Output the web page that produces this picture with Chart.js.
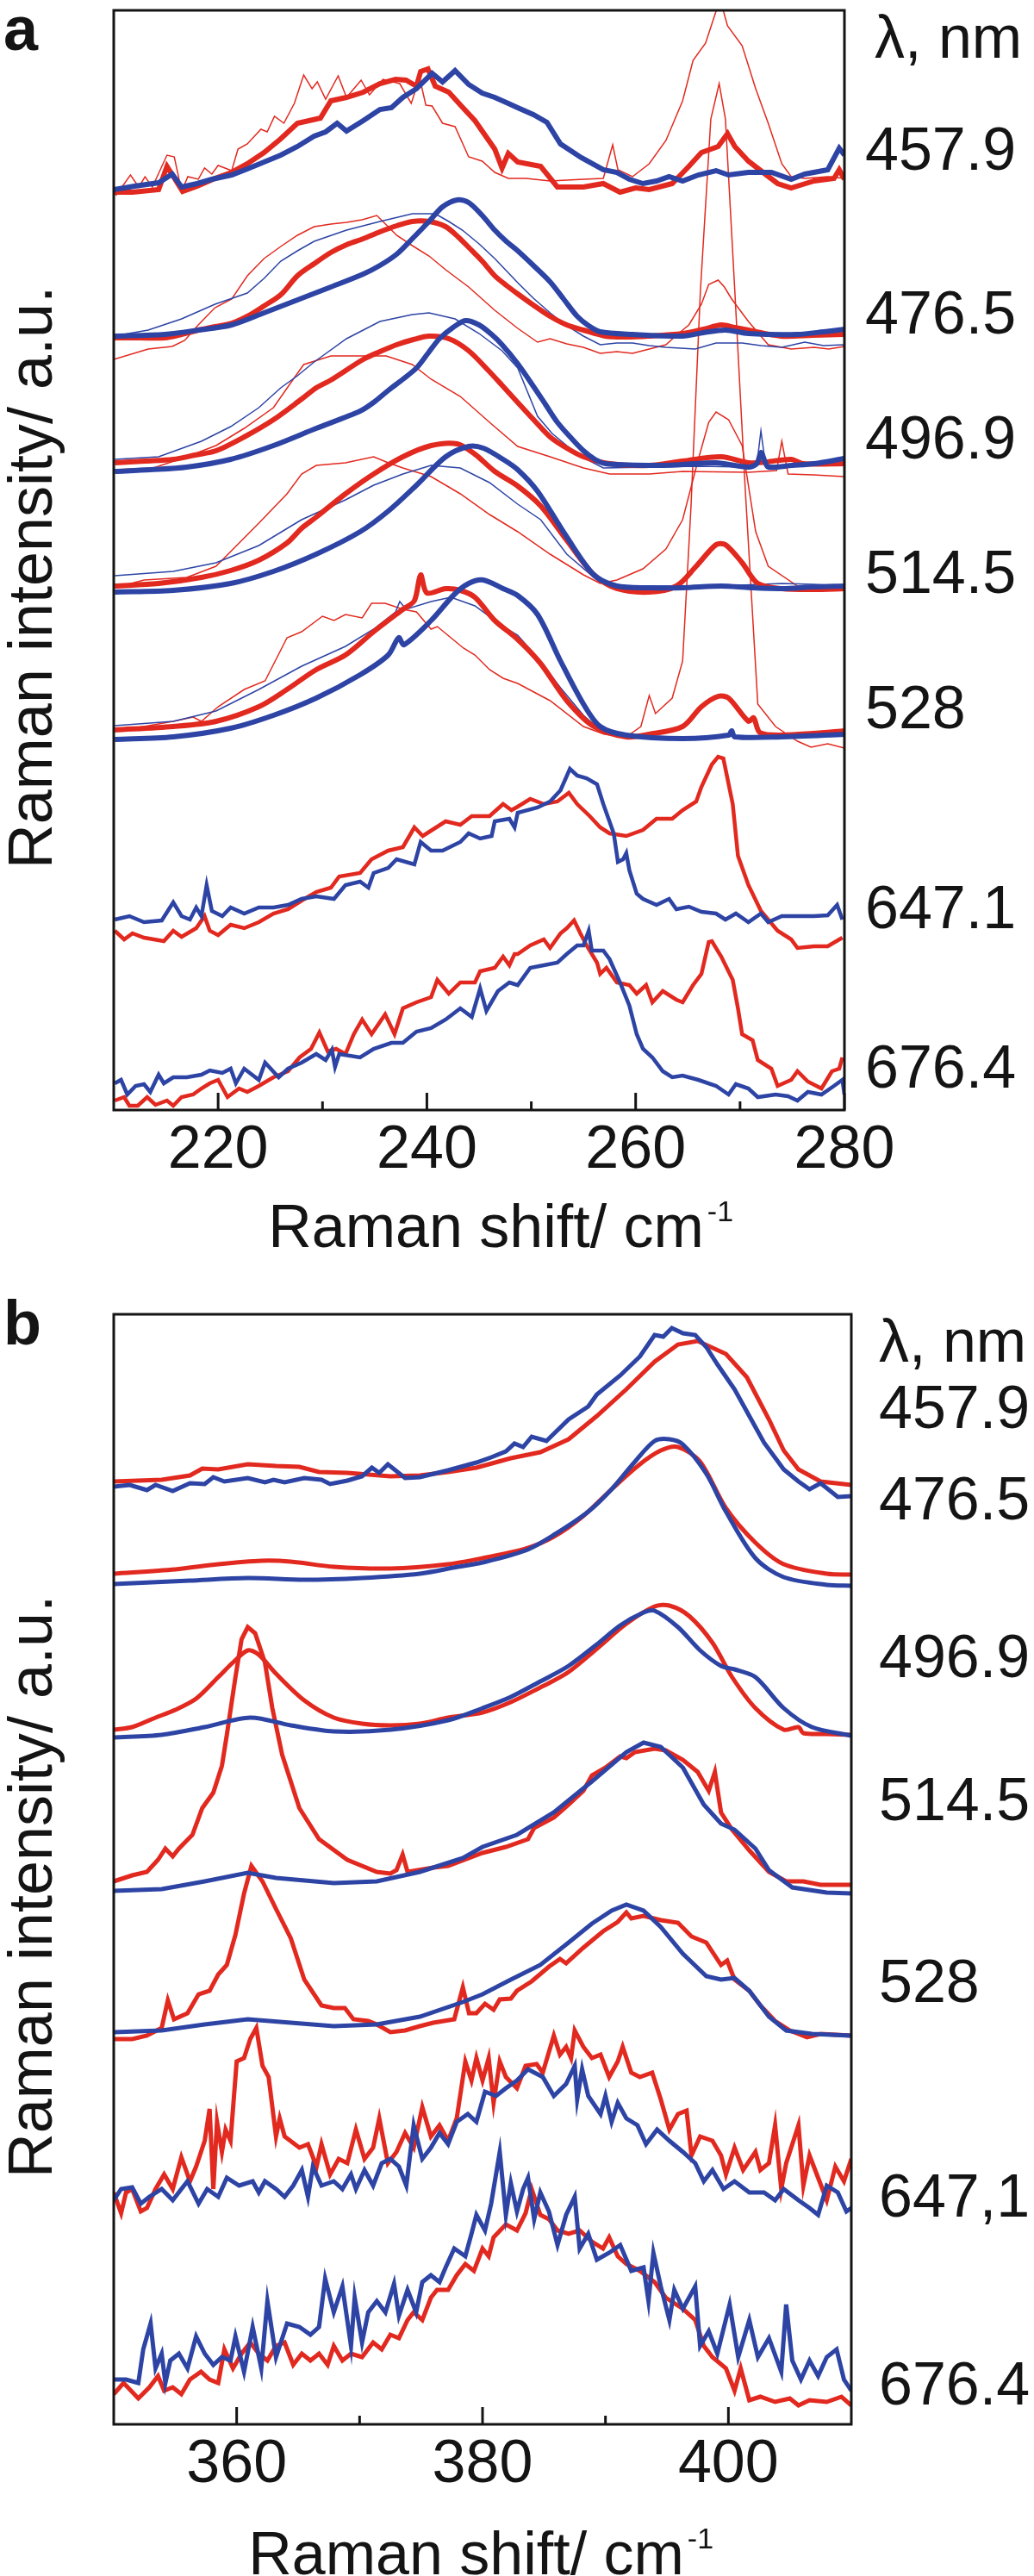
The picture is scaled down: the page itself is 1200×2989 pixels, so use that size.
<!DOCTYPE html>
<html lang="en">
<head>
<meta charset="UTF-8">
<title>Raman spectra</title>
<script src="https://cdn.jsdelivr.net/npm/chart.js"></script>
<style>
  body { margin: 0; background: #fff; }
  canvas { position: absolute; left: 0; }
</style>
</head>
<body>
<canvas id="chartA" width="1200" height="1500" style="top:0"></canvas>
<canvas id="chartB" width="1200" height="1489" style="top:1500px"></canvas>
<script>
// ---------- panel a : spectra, [shift cm-1, intensity a.u.] ----------
const a458_redThick = [[210,1065],[211.8,1065],[214.3,1068],[215.1,1095],[216.6,1066],[218,1072],[219.7,1081],[221.3,1088],[222.8,1098],[224.4,1111],[226,1127],[227.6,1145],[229.8,1151],[230.8,1171],[232.3,1175],[233.9,1181],[235.5,1191],[237,1196],[238,1195],[239,1188],[239.4,1205],[240.1,1208],[240.8,1188],[242.1,1181],[243.3,1165],[244.6,1148],[246.5,1115],[247.2,1093],[247.8,1110],[248.7,1100],[250.9,1095],[252.5,1071],[255,1071],[256.9,1075],[258.5,1065],[260,1070],[261.3,1068],[263.5,1075],[265.1,1095],[266.3,1111],[267.9,1118],[268.8,1133],[269.5,1118],[270.8,1101],[272.2,1088],[273.6,1075],[274.9,1070],[276,1074],[277.1,1078],[279,1081],[279.5,1091],[280,1080]];
const a458_blueThick = [[210,1068],[212,1072],[214.3,1076],[215.6,1086],[216.5,1071],[218,1075],[219.4,1080],[221.3,1085],[222.8,1092],[224.4,1100],[226,1108],[227.6,1118],[229.2,1130],[230.3,1135],[231.4,1145],[232.3,1136],[233.9,1148],[235.5,1161],[236.6,1163],[237.7,1175],[239,1185],[240.5,1203],[241.5,1193],[242.7,1206],[244,1190],[245.3,1180],[246.5,1175],[247.8,1168],[248.7,1163],[250.2,1155],[251.5,1146],[252.8,1121],[254.8,1105],[256.9,1091],[258.2,1088],[259.4,1080],[260.7,1075],[262,1078],[263.2,1083],[264.5,1078],[266,1085],[267.7,1090],[268.9,1085],[270.8,1088],[273,1088],[274.9,1080],[276.2,1086],[278.4,1091],[279.5,1116],[280,1108]];
const a458_redThin = [[210.2,1061],[211.6,1085],[212.4,1071],[213,1083],[213.7,1071],[215.1,1108],[215.8,1106],[216.5,1066],[217.1,1083],[218.1,1080],[218.7,1093],[219.4,1086],[220,1096],[221.3,1090],[221.9,1115],[222.8,1121],[224.1,1138],[224.7,1135],[225.4,1153],[226.3,1145],[227.3,1168],[228.2,1201],[229,1185],[229.5,1193],[230.3,1173],[231.5,1200],[232.3,1175],[233.7,1195],[234.5,1178],[235.8,1196],[237.4,1191],[238.5,1168],[239.3,1198],[239.9,1166],[240.5,1165],[241.5,1145],[242.7,1141],[244,1106],[245.3,1101],[246.5,1088],[247.8,1081],[249.5,1081],[251.8,1078],[255,1080],[256.9,1081],[257.8,1120],[258.3,1091],[259.7,1083],[261.3,1098],[262.9,1125],[264.5,1171],[265.5,1218],[266.7,1238],[267.7,1275],[268.3,1280],[268.8,1258],[270.2,1235],[271.5,1185],[272.7,1145],[274,1098],[274.9,1083],[276.2,1081],[278.4,1083],[280,1081]];

const a477_redThick = [[210,896],[212.5,896],[214.9,896],[216.5,900],[218.1,905],[219.7,909],[221.3,913],[222.8,921],[224.4,933],[226,946],[227.6,968],[229.2,982],[230.8,995],[232.3,1004],[233.9,1011],[235.5,1019],[237.1,1026],[238.6,1031],[240.2,1031],[241.8,1025],[243,1013],[244,1001],[245.3,985],[246.5,968],[247.6,957],[248.7,947],[250.2,934],[251.8,921],[253.4,911],[255,905],[257.1,898],[259,897],[261.3,898],[264.5,901],[266.5,906],[268.2,911],[269.5,908],[270.8,905],[273.9,898],[277,899],[280,900]];
const a477_blueThick = [[210,898],[214.9,900],[218.1,905],[221.3,911],[224.4,925],[227.6,940],[230.8,955],[233.9,970],[235.5,980],[237.1,993],[238.6,1011],[240.2,1031],[241.5,1048],[242.9,1056],[244,1053],[245.3,1038],[246.5,1021],[247.6,1008],[248.7,997],[250.2,980],[251.8,961],[253.1,941],[254.4,921],[255.5,910],[256.6,903],[259.7,900],[264.5,898],[266.5,902],[268.6,905],[270.8,901],[275.5,900],[278,903],[280,906]];
const a477_blueThin = [[210,898],[213.3,905],[216.5,918],[219.7,935],[222.8,948],[224.4,965],[226,985],[227.6,997],[229.2,1008],[232.3,1021],[235.5,1031],[238.6,1040],[240.8,1040],[242.1,1031],[243.4,1021],[245,1005],[246.5,988],[248.7,960],[250.2,942],[251.8,925],[253.4,910],[255,898],[256.6,888],[258.2,890],[259.7,890],[261.3,887],[262.9,885],[265.7,883],[267.7,890],[270.2,890],[272,887],[274,885],[276.2,891],[278,887],[280,888]];
const a477_redThin = [[210,871],[213.3,883],[215.6,886],[216.8,893],[218.1,911],[219.7,931],[221.3,941],[222.8,968],[224.4,988],[226,1002],[227.6,1015],[229.2,1025],[230.8,1028],[232.3,1030],[233.8,1033],[235.2,1038],[236.2,1026],[237.1,1015],[238.6,1003],[240.2,991],[241.8,975],[244,955],[246.5,928],[248.7,907],[250.6,891],[251.8,895],[253.4,889],[255,885],[256.6,878],[258.2,880],[259.7,878],[261.3,883],[262.9,888],[264,900],[265.1,911],[266.3,935],[267,958],[267.9,963],[268.5,955],[269.2,941],[270.8,915],[272.7,888],[274.9,883],[277.1,885],[278.5,883],[280,886]];

const a497_redThick = [[210.1,751],[213,753],[215.7,755],[217.8,760],[219.8,765],[222.5,781],[225.3,801],[228,825],[229.4,838],[230.8,847],[233.9,871],[235.5,880],[237.1,888],[238.7,894],[240.2,898],[242.1,895],[244,881],[245.9,858],[247.2,841],[248.7,821],[250.3,800],[251.8,781],[253.4,768],[255,758],[257.5,750],[261.3,748],[264.5,753],[268.2,758],[270.8,751],[272.5,752],[274.9,755],[276,750],[280,750]];
const a497_blueThick = [[210.1,741],[213.5,743],[217,746],[221.2,755],[225.3,771],[229.4,791],[233.6,811],[235,822],[236.3,835],[237.7,848],[239,861],[240.1,878],[241.2,895],[242.5,908],[243.7,916],[245,911],[246.2,900],[247.2,888],[248.7,866],[250.3,838],[251.4,818],[252.5,798],[253.8,780],[255,765],[256.1,755],[257.1,750],[261.3,748],[264.5,749],[267.7,751],[270.8,746],[271.6,750],[272,763],[272.4,752],[272.7,746],[275,748],[277.1,750],[280,756]];
const a497_blueThin = [[210.1,755],[214.3,758],[218.4,776],[221.2,793],[223.9,815],[226,838],[227.6,852],[229.2,868],[232.3,895],[235.5,915],[238.6,923],[240.2,925],[242.7,918],[245,901],[247.2,881],[248.7,861],[250.6,805],[252,785],[253.4,771],[255,757],[256.9,745],[261.3,746],[266,747],[270.8,746],[271.6,748],[272,788],[272.4,752],[272.7,748],[276,748],[280,748]];
const a497_redThin = [[210.1,743],[213.8,745],[217,758],[219.8,771],[222.5,791],[225.3,815],[227.2,848],[228.2,865],[230.8,875],[233.9,875],[236.1,875],[238.6,865],[240.4,848],[243.2,828],[246,798],[248.7,770],[251.8,758],[255,745],[257.5,738],[261.3,738],[264.5,741],[270.8,740],[273.5,742],[274,776],[274.6,738],[277,737],[280,735]];

const a515_redThick = [[210.1,608],[214.3,611],[218.4,618],[221.2,626],[223.9,638],[226.6,658],[228,675],[229.4,688],[232.2,715],[234.9,738],[237.7,758],[240.4,771],[242.9,773],[244.6,761],[246.5,741],[248.7,724],[250.9,701],[253.4,661],[256,621],[258.2,605],[261.3,601],[263.9,608],[265.8,631],[267.7,656],[268.6,656],[270.2,635],[271.7,611],[274,605],[277,604],[280,605]];
const a515_blueThick = [[210.1,601],[215.7,603],[221.2,611],[225.3,625],[229.4,645],[233.6,671],[236.3,695],[239,725],[241.8,758],[244,770],[245.4,768],[247.3,755],[248.7,743],[250.6,718],[253.4,665],[256,621],[258.2,608],[261.3,606],[264.5,606],[268.2,608],[271,606],[274,605],[277,607],[280,608]];
const a515_blueThin = [[210.1,620],[215.7,625],[219.8,635],[223.9,655],[228,685],[232.2,708],[234.9,725],[237.7,738],[240.4,748],[243.2,745],[246,728],[248.7,703],[250.9,685],[253.4,645],[256,618],[258.2,608],[264.5,608],[270,609],[274,611],[277,610],[280,608]];
const a515_redThin = [[210.1,606],[212.9,615],[217,618],[219.8,631],[221.2,648],[223.9,681],[226.6,715],[228,738],[229.4,748],[232.2,751],[234.9,758],[236.3,751],[237.7,745],[240.4,735],[243.2,715],[246,691],[248.7,671],[251.8,645],[255,621],[256.6,611],[258.2,615],[260.7,628],[262.9,651],[264.5,685],[266,755],[267,798],[267.7,810],[268.9,801],[270.2,771],[271.5,671],[272.7,631],[275.5,608],[280,606]];

const a528_redThick = [[210.1,441],[215.7,445],[219.8,451],[223.9,468],[226.6,488],[229.4,511],[232.2,528],[234.9,555],[237.7,581],[238.8,591],[239.4,621],[240,600],[241.8,605],[243.2,603],[244.6,595],[246.5,568],[248.7,546],[250.9,518],[253.4,475],[256,445],[259.1,433],[261.3,436],[264.5,445],[266.3,468],[267.9,480],[268.9,478],[270.8,451],[271.3,455],[271.9,438],[274,435],[277,437],[280,440]];
const a528_blueThick = [[210.1,430],[215.7,433],[221.2,443],[225.3,458],[229.4,478],[233.6,505],[236.3,528],[237.3,548],[237.8,540],[240.4,568],[242.6,598],[244,611],[245.4,615],[247.3,605],[248.7,597],[250.6,575],[252.8,521],[255,471],[256.6,445],[259.1,435],[264.5,431],[268.9,435],[269.2,440],[269.5,433],[274,433],[280,436]];
const a528_blueThin = [[210.1,446],[215.7,451],[219.8,463],[223.9,488],[228,515],[232.2,538],[234.9,558],[237,578],[237.4,590],[238,581],[240.4,590],[242.3,595],[244.6,585],[247.3,561],[248.7,551],[250.6,525],[252.8,490],[255,458],[256.6,441],[260,434],[264.5,433],[270,434],[275,435],[280,436]];
const a528_redThin = [[210.1,440],[212.9,445],[215.7,451],[217.6,456],[218.4,451],[220,468],[222.5,488],[224.5,498],[226.6,548],[228,555],[230,573],[231.1,568],[232.2,575],[233.8,571],[234.7,588],[236,588],[237.7,581],[239,578],[240.4,558],[241,561],[242.1,550],[243.5,536],[244.6,528],[246,511],[247.3,501],[248.7,495],[251.8,475],[255,445],[257,436],[259.1,433],[260.5,445],[261.3,481],[261.9,460],[263.5,478],[264.5,521],[265.3,700],[266.2,950],[267.2,1150],[268,1191],[268.6,1150],[269.5,950],[270.5,720],[271.7,471],[273.4,445],[275.5,428],[276.8,421],[278.4,425],[280,420]];

const a647_blue = [[210.1,221],[211.5,225],[212.9,218],[214.6,220],[215.7,241],[216.5,225],[217.3,221],[217.9,235],[218.4,225],[218.9,261],[219.4,231],[220.4,225],[221.2,235],[222.5,228],[223.9,235],[225.3,235],[226.7,238],[228,245],[229.4,248],[231.1,245],[232.2,261],[233.6,265],[234.4,258],[234.9,275],[236.3,281],[237.1,291],[238.8,285],[239.4,311],[240.4,301],[241.5,301],[243.2,311],[244,321],[245.1,315],[246.2,318],[246.5,335],[247.9,338],[248.4,328],[248.7,345],[250.6,351],[251.8,358],[252.8,371],[253.7,396],[254.4,388],[255.3,385],[256.3,378],[256.9,355],[257.9,321],[258.3,288],[258.8,291],[259.1,298],[259.4,278],[260.1,251],[260.7,245],[262,238],[263.2,245],[263.9,233],[265.1,236],[266.3,230],[267.7,228],[268.6,221],[269.6,228],[270.8,218],[272,228],[272.7,218],[274,225],[275.5,225],[277.1,225],[278.4,226],[279.3,238],[279.8,221]];
const a647_red = [[210.1,208],[211,198],[211.8,205],[212.9,200],[214.8,196],[215.7,208],[216.5,201],[217.9,211],[218.7,225],[219.2,208],[220,203],[221.2,215],[222.5,211],[223.9,218],[225.3,228],[226.7,233],[228,243],[229.4,253],[230.8,258],[231.6,271],[233.6,275],[234.7,291],[236.3,301],[237.7,305],[238.8,328],[239.6,318],[241.8,335],[243.2,331],[244.3,341],[246,341],[247.3,355],[248.1,348],[248.7,352],[249.9,361],[251.2,355],[252.5,358],[253.6,368],[254.4,355],[255.6,341],[256.6,328],[257.5,321],[259.1,318],[260.7,325],[262,338],[263.5,338],[264.5,348],[265.8,358],[266.3,375],[267.3,401],[267.9,410],[268.4,408],[269.3,355],[269.8,295],[270.8,261],[272,231],[273.6,208],[274.9,198],[275.5,188],[277.1,190],[278.4,190],[279.8,200]];
const a676_blue = [[210.1,31],[210.7,35],[211.3,18],[212.1,28],[212.9,30],[213.5,21],[214.3,41],[214.8,31],[215.7,38],[217,38],[218.4,41],[219.2,46],[220.4,43],[221.2,48],[221.7,31],[222.5,48],[223.9,35],[224.5,55],[225.8,38],[226.7,48],[228,55],[229.4,65],[230.3,58],[230.9,70],[231.2,50],[231.6,65],[233.6,61],[234.9,71],[236.6,78],[237.7,78],[239,91],[240.4,95],[241.8,105],[243.2,118],[244.3,108],[245.1,141],[245.7,115],[246.8,138],[247.9,148],[248.7,145],[249.9,165],[251.2,168],[252.5,171],[253.4,181],[254.4,191],[255,191],[255.5,208],[255.8,185],[256.9,185],[257.5,175],[258.5,148],[259.4,121],[260.1,88],[260.7,71],[261.6,61],[262.6,45],[263.5,38],[264.5,40],[266,35],[267.7,28],[268.9,18],[269.6,30],[270.8,25],[271.7,15],[273.4,18],[274.6,16],[275.5,11],[276.5,21],[277.8,18],[279,28],[279.8,35],[280,18]];
const a676_red = [[210.1,11],[211,15],[211.5,5],[212.3,5],[213.2,15],[214,6],[215.1,11],[215.7,5],[216.5,15],[217.6,18],[218.4,25],[219.2,31],[220,35],[220.9,15],[222,25],[222.8,21],[223.9,28],[225.3,38],[226.7,45],[227.8,61],[228.9,71],[229.7,90],[230.5,68],[231.3,71],[232.2,65],[233,88],[233.8,105],[234.7,88],[236,111],[236.9,88],[237.7,118],[239,125],[240.4,131],[241,151],[242.1,135],[243.2,148],[244.6,148],[245.1,161],[246.5,165],[247.3,178],[247.9,168],[248.4,181],[248.7,181],[249.9,191],[251.2,198],[251.8,188],[252.8,205],[253.4,211],[254.1,220],[254.7,205],[255.3,191],[256.3,171],[256.6,158],[257.2,165],[258.2,148],[259.4,145],[260.1,135],[261,145],[261.6,125],[262.6,138],[263.9,128],[264.5,125],[265.5,145],[266.3,158],[267,195],[267.3,196],[268.2,178],[269.3,151],[269.8,118],[270.2,88],[271.2,81],[271.7,58],[273,48],[273.6,28],[274.9,35],[275.5,45],[276.5,33],[277.8,25],[278.8,45],[279.5,48],[279.8,61]];

// ---------- panel b ----------
const b458_red = [[350,1094],[353.9,1096],[356.2,1101],[357.2,1109],[358.5,1108],[360.9,1114],[363.2,1112],[365.1,1111],[366.7,1105],[369,1104],[372.5,1100],[374.9,1101],[377.2,1105],[379.5,1110],[382.3,1121],[384.7,1128],[387,1143],[389.3,1170],[391.7,1201],[394,1233],[395.9,1253],[397.5,1257],[399.8,1242],[401.5,1215],[403.3,1166],[404.5,1130],[405.7,1108],[407.5,1094],[410,1090]];
const b458_blue = [[350,1088],[351.3,1090],[352.7,1084],[353.4,1090],[354.8,1083],[356.2,1092],[357.4,1091],[358.1,1099],[359,1094],[360.9,1098],[362.3,1093],[363,1096],[363.9,1093],[365.5,1098],[366.9,1096],[367.6,1091],[369,1095],[370.2,1100],[371,1110],[371.6,1104],[372.3,1114],[373.7,1098],[374.9,1099],[377.2,1107],[379.5,1116],[380.7,1122],[381.9,1129],[382.6,1138],[383.3,1134],[384,1146],[385.2,1141],[387,1166],[388.6,1181],[389.3,1195],[391.2,1217],[392.8,1239],[394,1264],[394.7,1262],[395.4,1272],[396.3,1266],[397.3,1264],[398.2,1250],[399.1,1230],[400.5,1201],[401.7,1170],[402.9,1139],[404.5,1108],[405.7,1094],[406.6,1085],[407.5,1092],[408.9,1076],[410,1077]];
const b477_red = [[350,987],[355,992],[358.5,998],[362,1002],[364.4,1001],[367.9,995],[372.5,993],[377.2,998],[380,1005],[383.5,1016],[385.8,1030],[388.2,1054],[390.5,1085],[392.8,1114],[394.5,1130],[395.9,1134],[397.7,1117],[399.8,1063],[402.2,1023],[404.5,998],[408,987],[410,986]];
const b477_blue = [[350,975],[356.2,979],[360.9,982],[365.5,980],[370.2,982],[374.9,987],[378,995],[380,1000],[383.5,1014],[385.8,1032],[388.6,1059],[390.5,1085],[392.4,1117],[394,1141],[395.2,1143],[396.3,1137],[398.2,1103],[399.8,1059],[402.2,1005],[404.5,983],[408,974],[410,973]];
const b497_red = [[350,806],[351.5,809],[353.4,820],[355,829],[356.7,842],[358.5,867],[359.7,884],[360.9,898],[361.8,893],[363.2,871],[365.5,840],[367.9,820],[370.2,813],[372.5,811],[374.9,813],[377.2,820],[380,826],[382.3,838],[384.7,855],[385.4,860],[387,873],[389.3,900],[391.7,929],[394,949],[395.2,950],[396.8,938],[398.7,907],[400.3,867],[402.2,831],[404.5,806],[405.7,809],[406.1,802],[408,801],[410,800]];
const b497_blue = [[350,797],[353.9,800],[357.4,809],[361.1,820],[364.4,811],[367.9,804],[372.5,806],[377.2,817],[380,831],[382.3,844],[384.7,862],[387,880],[389.3,905],[391.2,927],[393.1,942],[394,944],[395.9,925],[397.7,898],[399.4,880],[400.5,876],[402.2,867],[404.5,831],[406.8,809],[410,799]];
const b515_red = [[350,630],[351.5,637],[352.7,641],[353.6,655],[354.2,668],[354.8,659],[355.3,668],[356.4,684],[357.2,715],[358.1,733],[358.8,764],[359.2,800],[359.9,867],[360.4,911],[360.9,925],[361.5,918],[362.3,884],[362.9,831],[363.7,777],[365.1,715],[366.7,679],[369,655],[371.4,641],[372.5,639],[373,643],[373.5,661],[373.9,641],[376,646],[377.2,648],[380,663],[381.9,670],[383.7,679],[384.2,692],[385.8,704],[387,719],[388.2,735],[388.9,753],[390,762],[391.2,775],[391.7,773],[392.4,780],[394,784],[394.9,782],[396.3,771],[397.5,757],[398.4,735],[398.9,757],[399.4,710],[400.3,690],[401.7,666],[403.3,641],[404.7,630],[406.1,630],[407.5,626],[410,626]];
const b515_blue = [[350,619],[353.9,621],[357.4,630],[360.9,640],[363.2,634],[367.9,628],[371.4,630],[374.9,641],[378.4,657],[380,670],[382.8,684],[385.8,710],[388.9,746],[391.7,780],[393.1,791],[394.5,786],[396.3,762],[398,719],[399.4,697],[400.5,690],[402.2,668],[403.3,643],[405.2,623],[408,617],[410,616]];
const b528_red = [[350,447],[351.5,447],[352.7,451],[353.9,460],[354.4,492],[354.9,470],[356,477],[356.9,499],[357.8,503],[358.5,522],[359.2,533],[359.9,568],[360.6,616],[361.2,648],[362.1,630],[363.2,598],[364.4,564],[365.5,516],[366.9,486],[367.9,483],[368.8,483],[369.5,470],[370.7,468],[371.4,464],[372.5,455],[373.7,457],[374.9,462],[376,466],[377.7,470],[378.4,507],[378.9,477],[379.5,477],[380.2,488],[380.9,481],[381.4,493],[382.3,494],[382.8,503],[384,514],[385.4,531],[386.3,540],[386.8,535],[388.2,553],[389.8,572],[391,583],[391.7,594],[392.1,587],[393.1,590],[394.5,585],[395.9,582],[397,566],[398.2,559],[399.4,533],[399.9,538],[400.5,516],[401.7,503],[402.6,486],[403.8,468],[405,457],[406.4,449],[407.5,453],[410,451]];
const b528_blue = [[350,455],[353.9,457],[357.4,464],[360.9,470],[364.4,466],[367.9,462],[371.4,464],[374.9,473],[378.4,490],[380,499],[382.3,516],[384.7,533],[387,559],[388.9,581],[390.5,596],[391.7,603],[393.1,596],[394.5,577],[396.3,546],[398.2,520],[399.4,516],[400.5,518],[401.7,503],[403.3,473],[404.7,457],[406.8,453],[410,451]];
const b647_red = [[350,269],[350.6,245],[351,269],[351.5,273],[352.2,247],[352.7,251],[353.4,273],[354.1,290],[354.8,273],[355.5,310],[356.2,282],[356.7,299],[357.4,329],[357.8,366],[358.1,273],[358.4,351],[358.8,316],[359.1,342],[359.5,329],[360,421],[360.6,425],[361.1,447],[361.6,460],[362.1,416],[362.6,403],[363.2,334],[363.5,355],[363.9,334],[365.1,321],[365.8,325],[366.5,299],[366.9,325],[367.6,290],[368.3,308],[369,303],[369.7,342],[370.4,308],[371.1,321],[371.6,355],[372.3,303],[373,316],[373.7,338],[374.4,321],[375.1,368],[375.8,334],[376.5,347],[377.2,329],[377.9,355],[378.6,421],[379.1,399],[379.5,425],[380,399],[380.5,425],[380.9,373],[381.4,421],[381.9,403],[382.8,390],[383.5,416],[384.4,418],[384.9,408],[385.8,451],[386.3,429],[386.8,438],[387.2,425],[387.5,457],[388.2,438],[388.9,425],[389.6,429],[390.3,403],[391,421],[391.4,438],[392.1,408],[392.8,403],[393.8,408],[394.5,377],[395.2,342],[395.9,360],[396.6,364],[397,312],[397.7,334],[398.7,329],[399.4,312],[399.8,290],[400.5,321],[401.2,295],[402.2,316],[402.6,295],[403.3,303],[403.8,347],[404.3,273],[404.7,303],[405.7,347],[406.1,277],[406.6,312],[407.3,286],[408,260],[408.7,299],[409.4,282],[410,308]];
const b647_blue = [[350,260],[350.6,273],[351.5,275],[352.2,256],[352.9,264],[353.9,273],[354.8,260],[355.5,273],[356,282],[356.9,256],[357.6,273],[358.5,264],[359.2,286],[360.2,277],[361.3,282],[361.8,269],[362.3,282],[363.2,273],[363.9,264],[364.6,277],[365.3,295],[365.8,264],[366.2,299],[366.9,277],[367.9,282],[368.6,273],[369.3,290],[369.7,273],[370.4,295],[371.1,277],[371.8,303],[372.5,308],[373.2,299],[373.8,277],[374.4,347],[375.1,308],[375.8,321],[376.5,338],[377.2,325],[377.9,351],[378.8,360],[379.5,351],[380.2,386],[381.1,381],[381.9,390],[382.8,399],[383.7,412],[384.9,403],[385.8,381],[386.8,395],[387.5,416],[387.7,377],[388.1,412],[388.6,381],[389.6,360],[390,381],[390.5,351],[391,373],[391.7,355],[392.6,347],[393.3,325],[394.2,342],[395.2,329],[396.3,316],[397.3,303],[398,282],[398.7,295],[399.6,273],[400.5,282],[401.7,269],[402.9,269],[403.8,260],[404.5,273],[405.7,260],[406.6,251],[407.3,243],[408,277],[408.9,269],[409.6,247],[410,251]];
const b676_red = [[350,35],[350.8,48],[352,30],[352.9,43],[353.6,56],[354.1,39],[354.8,43],[355.5,35],[356.2,52],[357.1,61],[357.8,52],[358.5,48],[359,87],[359.7,65],[360.4,82],[361.1,95],[361.8,82],[362.5,74],[363.2,91],[363.9,95],[364.6,69],[365.3,82],[366,74],[366.7,82],[367.4,69],[367.9,91],[368.6,74],[369.3,82],[370.2,78],[371.1,95],[371.8,87],[372.5,104],[373.2,100],[373.9,121],[374.4,130],[375.1,121],[375.8,147],[376.3,156],[377.2,156],[377.9,173],[378.6,186],[379.3,178],[380,204],[380.5,195],[380.9,217],[381.9,232],[382.8,225],[383.5,245],[384,273],[384.7,243],[385.4,238],[386.1,225],[387,221],[387.9,225],[388.9,212],[389.8,204],[390.3,217],[391,195],[391.7,186],[392.8,178],[394,165],[394.9,147],[396.3,134],[397.3,121],[398,91],[398.7,78],[399.8,65],[400.5,39],[401,65],[401.7,28],[402.6,32],[403.8,26],[405,30],[405.7,22],[406.6,28],[408,26],[409.2,32],[410,22]];
const b676_blue = [[350,52],[351,52],[352,48],[352.4,87],[353,117],[353.4,65],[353.9,82],[354.2,48],[354.6,74],[355.3,82],[356,65],[356.7,102],[357.4,82],[358.1,69],[358.8,78],[359.5,74],[359.9,102],[360.6,61],[361.3,113],[362,65],[362.5,143],[363.2,78],[364.1,117],[365.1,113],[366,104],[366.7,113],[367.2,169],[367.9,130],[368.6,160],[369.3,91],[369.6,147],[370.2,95],[370.7,130],[371.4,143],[372.1,130],[372.8,163],[373.2,126],[373.9,156],[374.6,130],[375.1,165],[375.8,173],[376.5,165],[377,182],[377.7,204],[378.6,195],[379.1,221],[379.5,243],[380.2,225],[380.7,256],[381.4,316],[381.9,243],[382.3,280],[382.8,247],[383.3,273],[383.7,286],[384.2,238],[384.7,269],[385.4,247],[386.1,208],[386.8,243],[387.5,264],[387.9,204],[388.6,221],[389.3,191],[390.3,199],[391.2,208],[392.1,178],[393.1,182],[393.5,143],[393.9,199],[394.5,160],[395.2,121],[395.6,156],[396.3,134],[397.3,160],[397.7,91],[398.4,108],[399.1,82],[400.1,139],[400.8,78],[401.7,121],[402.4,78],[403.3,100],[404.3,61],[404.7,139],[405.2,74],[405.9,52],[406.6,74],[407.3,56],[408,78],[408.8,87],[409.4,52],[410,39]];

// axes and labels
const xTicksA = [220, 240, 260, 280];
const xMinorA = [230, 250, 270];
const xTicksB = [360, 380, 400];
const xMinorB = [370, 390];
const wavelengthsA = ['457.9', '476.5', '496.9', '514.5', '528', '647.1', '676.4'];
const wavelengthsB = ['457.9', '476.5', '496.9', '514.5', '528', '647,1', '676.4'];
const labelLevelA = [1091, 901, 756, 600, 443, 211, 26];
const labelLevelB = [1156, 1050, 867, 701, 490, 241, 23];

const RED = '#e2291f';
const BLUE = '#2d44a5';
const INK = '#141414';
const FONT = '"Liberation Sans", Arial, Helvetica, sans-serif';

function line(points, color, width, tension) {
  return {
    data: points.map(p => ({ x: p[0], y: p[1] })),
    borderColor: color,
    borderWidth: width,
    pointRadius: 0,
    tension: tension,
    fill: false
  };
}

function decor(o) {
  return {
    id: 'decor',
    afterDraw(chart) {
      const { ctx, chartArea: ca } = chart;
      const x = chart.scales.x, y = chart.scales.y;
      ctx.save();
      ctx.strokeStyle = INK;
      ctx.lineWidth = 3;
      ctx.strokeRect(ca.left, ca.top, ca.right - ca.left, ca.bottom - ca.top);
      // inward ticks
      const tick = (v, len) => {
        const px = x.getPixelForValue(v);
        ctx.beginPath();
        ctx.moveTo(px, ca.bottom);
        ctx.lineTo(px, ca.bottom - len);
        ctx.stroke();
      };
      o.major.forEach(v => tick(v, 20));
      o.minor.forEach(v => tick(v, 10));

      ctx.fillStyle = INK;
      ctx.textBaseline = 'alphabetic';
      ctx.textAlign = 'left';
      ctx.font = '70px ' + FONT;
      o.labels.forEach((t, i) => ctx.fillText(t, o.labelX, y.getPixelForValue(o.levels[i])));
      ctx.fillText('\u03bb, nm', o.lambdaX, o.lambdaY);

      ctx.font = 'bold 72px ' + FONT;
      ctx.fillText(o.letter, 4, o.letterY);

      // y axis title, rotated
      ctx.save();
      ctx.translate(60, (ca.top + ca.bottom) / 2 + o.yTitleShift);
      ctx.rotate(-Math.PI / 2);
      ctx.textAlign = 'center';
      ctx.font = '72px ' + FONT;
      ctx.fillText('Raman intensity/ a.u.', 0, 0);
      ctx.restore();

      // x axis title with superscript
      const main = 'Raman shift/ cm';
      ctx.font = '70px ' + FONT;
      const w = ctx.measureText(main).width;
      const cx = (ca.left + ca.right) / 2 + o.titleShift;
      ctx.fillText(main, cx - w / 2, o.titleY);
      ctx.font = '34px ' + FONT;
      ctx.fillText('-1', cx + w / 2 + 4, o.titleY - 30);
      ctx.restore();
    }
  };
}

function makeChart(id, datasets, xr, yr, pad, ticksLabels, plugin) {
  return new Chart(document.getElementById(id), {
    type: 'line',
    data: { datasets: datasets },
    options: {
      responsive: false,
      animation: false,
      events: [],
      layout: { padding: pad },
      plugins: { legend: { display: false }, tooltip: { enabled: false } },
      scales: {
        x: {
          type: 'linear', min: xr[0], max: xr[1],
          grid: { display: false, drawTicks: false },
          border: { display: false },
          ticks: { color: INK, font: { family: FONT, size: 70 }, padding: 6, maxRotation: 0 },
          afterBuildTicks: s => { s.ticks = ticksLabels.map(v => ({ value: v })); },
          afterFit: s => { s.height = 150; }
        },
        y: {
          type: 'linear', min: yr[0], max: yr[1],
          grid: { display: false, drawTicks: false },
          border: { display: false },
          ticks: { display: false },
          afterFit: s => { s.width = 132; }
        }
      }
    },
    plugins: [plugin]
  });
}

const W_THICK = 6, W_THIN = 1.5, W_MID = 4.5;

makeChart('chartA', [
  line(a458_blueThick, BLUE, W_THICK, 0), line(a458_redThick, RED, W_THICK, 0),
  line(a477_blueThick, BLUE, W_THICK, 0.3), line(a477_redThick, RED, W_THICK, 0.3),
  line(a497_blueThick, BLUE, W_THICK, 0.3), line(a497_redThick, RED, W_THICK, 0.3),
  line(a515_blueThick, BLUE, W_THICK, 0.3), line(a515_redThick, RED, W_THICK, 0.3),
  line(a528_blueThick, BLUE, W_THICK, 0.3), line(a528_redThick, RED, W_THICK, 0.3),
  line(a647_blue, BLUE, W_MID, 0), line(a647_red, RED, W_MID, 0),
  line(a676_blue, BLUE, W_MID, 0), line(a676_red, RED, W_MID, 0),
  line(a458_redThin, RED, W_THIN, 0),
  line(a477_blueThin, BLUE, W_THIN, 0), line(a477_redThin, RED, W_THIN, 0),
  line(a497_blueThin, BLUE, W_THIN, 0), line(a497_redThin, RED, W_THIN, 0),
  line(a515_blueThin, BLUE, W_THIN, 0), line(a515_redThin, RED, W_THIN, 0),
  line(a528_blueThin, BLUE, W_THIN, 0), line(a528_redThin, RED, W_THIN, 0)
], [210, 280], [0, 1276], { left: 0, right: 220, top: 12, bottom: 62 }, xTicksA,
  decor({ major: xTicksA, minor: xMinorA, labels: wavelengthsA, levels: labelLevelA,
          labelX: 1004, lambdaX: 1015, lambdaY: 67, letter: 'a', letterY: 58,
          titleShift: 8, titleY: 1447, yTitleShift: 20 }));

makeChart('chartB', [
  line(b458_blue, BLUE, 5, 0), line(b458_red, RED, 5, 0),
  line(b477_blue, BLUE, 5, 0.3), line(b477_red, RED, 5, 0.3),
  line(b497_blue, BLUE, 5, 0.3), line(b497_red, RED, 5, 0.3),
  line(b515_blue, BLUE, 5, 0), line(b515_red, RED, 5, 0),
  line(b528_blue, BLUE, 5, 0), line(b528_red, RED, 5, 0),
  line(b647_blue, BLUE, 5, 0), line(b647_red, RED, 5, 0),
  line(b676_blue, BLUE, 5, 0), line(b676_red, RED, 5, 0)
], [350, 410], [0, 1288], { left: 0, right: 212, top: 25, bottom: 26 }, xTicksB,
  decor({ major: xTicksB, minor: xMinorB, labels: wavelengthsB, levels: labelLevelB,
          labelX: 1020, lambdaX: 1020, lambdaY: 80, letter: 'b', letterY: 60,
          titleShift: -19, titleY: 1487, yTitleShift: 20 }));
</script>
</body>
</html>
